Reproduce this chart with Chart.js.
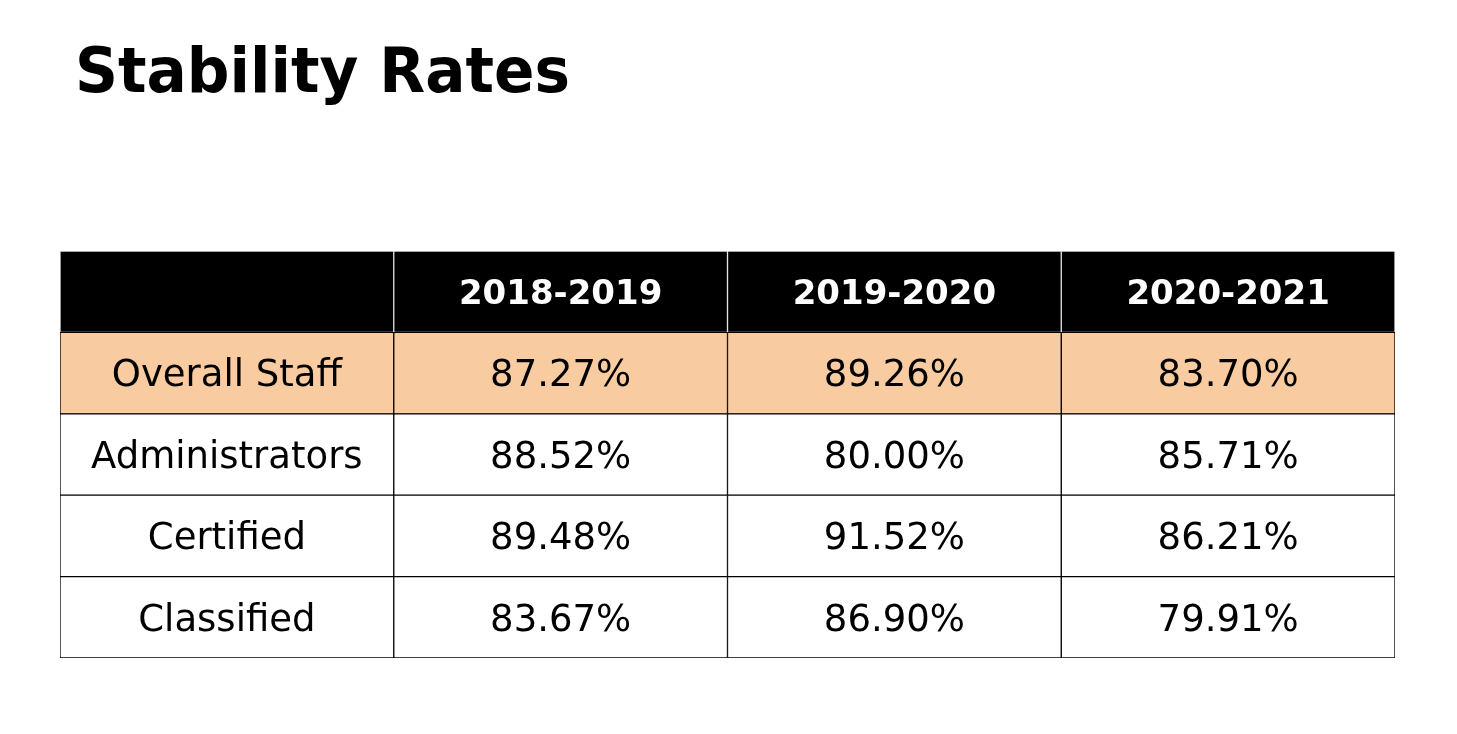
<!DOCTYPE html>
<html lang="en">
<head>
  <meta charset="UTF-8">
  <title>Stability Rates</title>
  <style>
    html,body{margin:0;padding:0;background:#fff;}
    canvas{display:block;}
  </style>
  <script src="https://cdn.jsdelivr.net/npm/chart.js"></script>
</head>
<body>
  <canvas id="tbl" width="1457" height="734"></canvas>
  <script>
    // table contents
    const title = 'Stability Rates';
    const years = ['2018-2019', '2019-2020', '2020-2021'];
    const groups = ['Overall Staff', 'Administrators', 'Certified', 'Classified'];
    const overallStaff   = [87.27, 89.26, 83.70];
    const administrators = [88.52, 80.00, 85.71];
    const certified      = [89.48, 91.52, 86.21];
    const classified     = [83.67, 86.90, 79.91];
    const values = [overallStaff, administrators, certified, classified];

    const FONT = '"DejaVu Sans", sans-serif';
    // row 0 is the header row, then one row per group
    const rowLabels = ['header'].concat(groups);
    const nCols = years.length + 1;

    const fillFor = (row) => row === 0 ? '#000000' : (row === 1 ? '#f8cba0' : '#ffffff');
    const lineFor = (row) => row === 0 ? '#e0e0e0' : '#000000';

    // one stacked dataset per column, every cell is a unit-width bar
    const datasets = [];
    for (let c = 0; c < nCols; c++) {
      datasets.push({
        data: rowLabels.map(() => 1),
        backgroundColor: (ctx) => fillFor(ctx.dataIndex),
        borderColor: (ctx) => lineFor(ctx.dataIndex),
        borderWidth: 1,
        borderSkipped: false,
        barPercentage: 1,
        categoryPercentage: 1
      });
    }

    const cellText = {
      id: 'cellText',
      afterDatasetsDraw(chart) {
        const { ctx, scales: { x, y } } = chart;
        ctx.save();
        ctx.textAlign = 'center';
        ctx.textBaseline = 'alphabetic';
        for (let r = 0; r < rowLabels.length; r++) {
          const cy = y.getPixelForValue(r);
          for (let c = 0; c < nCols; c++) {
            const cx = x.getPixelForValue(c + 0.5);
            let txt, size;
            if (r === 0) {
              if (c === 0) continue;
              txt = years[c - 1];
              size = 34;
              ctx.font = 'bold ' + size + 'px ' + FONT;
              ctx.fillStyle = '#ffffff';
            } else {
              txt = c === 0 ? groups[r - 1] : values[r - 1][c - 1].toFixed(2) + '%';
              size = 37;
              ctx.font = size + 'px ' + FONT;
              ctx.fillStyle = '#000000';
            }
            ctx.fillText(txt, cx, cy + size * 0.36);
          }
        }
        // heading
        ctx.textAlign = 'left';
        ctx.fillStyle = '#000000';
        ctx.font = 'bold 63px ' + FONT;
        ctx.fillText(title, 75, 92, 495);
        ctx.restore();
      }
    };

    new Chart(document.getElementById('tbl'), {
      type: 'bar',
      data: { labels: rowLabels, datasets },
      options: {
        indexAxis: 'y',
        responsive: false,
        animation: false,
        devicePixelRatio: 1,
        layout: { padding: { left: 60, right: 62, top: 251, bottom: 76 } },
        scales: {
          x: { type: 'linear', stacked: true, min: 0, max: nCols, display: false },
          y: { stacked: true, display: false }
        },
        plugins: { legend: { display: false }, tooltip: { enabled: false } }
      },
      plugins: [cellText]
    });
  </script>
</body>
</html>
